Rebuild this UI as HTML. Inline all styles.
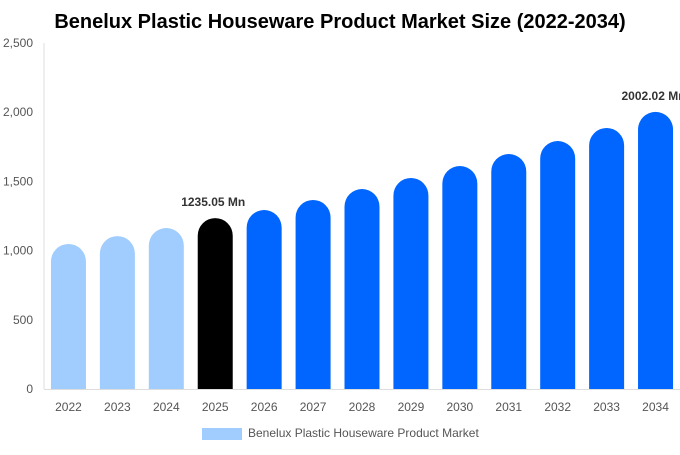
<!DOCTYPE html>
<html><head><meta charset="utf-8"><style>
body{margin:0;background:#fff;font-family:"Liberation Sans",Arial,sans-serif}
svg text{font-family:"Liberation Sans",Arial,sans-serif}
</style></head><body>
<svg id="chart" width="680" height="450">
<text x="340" y="28" text-anchor="middle" font-size="20" font-weight="bold" fill="#000">Benelux Plastic Houseware Product Market Size (2022-2034)</text>
<g id="axes"></g><g id="bars"></g>
<rect x="202" y="428" width="40" height="12" fill="#a0cdfd"></rect>
<text x="248" y="437" font-size="12" fill="#555">Benelux Plastic Houseware Product Market</text>
</svg>
<script>
const years=["2022","2023","2024","2025","2026","2027","2028","2029","2030","2031","2032","2033","2034"];
const values=[1048,1105,1163,1235.05,1293,1366,1445,1525,1611,1698,1792,1886,2002.02];
const yTicks=[0,500,1000,1500,2000,2500];
const yTickLabels=["0","500","1,000","1,500","2,000","2,500"];
const labels={3:"1235.05 Mn",12:"2002.02 Mn"};
const NS="http://www.w3.org/2000/svg";
const x0=44,x1=680,yBase=389,yTop=43,maxV=2500;
const band=(x1-x0)/years.length;
const y=v=>yBase-(v/maxV)*(yBase-yTop);
const xc=i=>x0+band*(i+0.5);
function mk(t,a,p){const e=document.createElementNS(NS,t);for(const k in a)e.setAttribute(k,a[k]);p.appendChild(e);return e;}
const ax=document.getElementById('axes'),bg=document.getElementById('bars');
yTicks.forEach((t,i)=>{
 const tx=mk('text',{x:33,y:y(t)+4,'text-anchor':'end','font-size':12,fill:'#555'},ax);tx.textContent=yTickLabels[i];
 
 
});
const yl=mk('line',{x1:x0,x2:x0,y1:yTop,y2:yBase,stroke:'#ddd'},ax);


const xl=mk('line',{x1:x0,x2:x1,y1:yBase+0.5,y2:yBase+0.5,stroke:'#ddd'},ax);


const w=35,r=17.5;
values.forEach((v,i)=>{
 const cx=xc(i),top=y(v),l=cx-w/2;
 const col=i<3?'#a0cdfd':(i===3?'#000':'#0066ff');
 const d=`M${l},${yBase}L${l},${top+r}A${r},${r} 0 0 1 ${l+w},${top+r}L${l+w},${yBase}Z`;
 const p=mk('path',{d:d,fill:col},bg);
 
 
 const t=mk('text',{x:cx,y:yBase+22,'text-anchor':'middle','font-size':12,fill:'#555'},ax);t.textContent=years[i];
 
 
 if(labels[i]){
  const lb=mk('text',{x:cx-2,y:top-12,'text-anchor':'middle','font-size':12,'font-weight':'bold',fill:'#333'},bg);lb.textContent=labels[i];
  
  
 }
});
</script>
</body></html>
